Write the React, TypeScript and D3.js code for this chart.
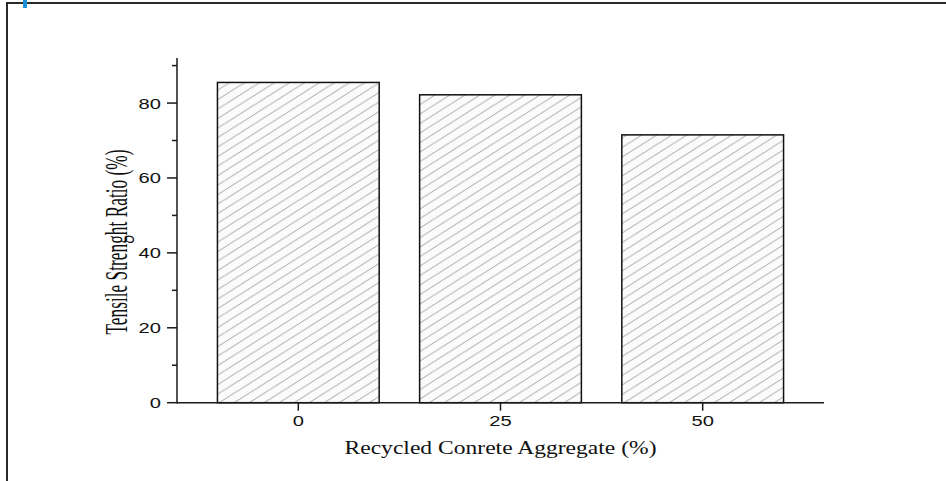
import React from "react";
import * as d3 from "d3";

const categories = [0, 25, 50];
const values = [85.5, 82.2, 71.5];
const yMajorTicks = [0, 20, 40, 60, 80];
const yMinorTicks = [10, 30, 50, 70, 90];
const xTickLabels = ["0", "25", "50"];
const xLabel = "Recycled Conrete Aggregate (%)";
const yLabel = "Tensile Strenght Ratio (%)";

const W = 946;
const H = 481;

export default function App() {
  const x = d3.scaleLinear().domain([-15, 65]).range([177, 824]);
  const y = d3.scaleLinear().domain([0, 92]).range([402.7, 58.1]);
  const barW = x(20) - x(0);
  const axisColor = "#1a1a1a";
  const pw = 15;
  const ph = 9.5;

  return (
    <svg
      width={W}
      height={H}
      style={{ position: "absolute", left: 0, top: 0, background: "#fff" }}
    >
      <defs>
        <pattern id="hatch" patternUnits="userSpaceOnUse" width={pw} height={ph}>
          <rect width={pw} height={ph} fill="#fbfbfb" />
          <line x1={0} y1={ph} x2={pw} y2={0} stroke="#aaaaaa" strokeWidth={1} />
          <line x1={-pw} y1={ph} x2={0} y2={0} stroke="#aaaaaa" strokeWidth={1} />
          <line x1={pw} y1={ph} x2={2 * pw} y2={0} stroke="#aaaaaa" strokeWidth={1} />
        </pattern>
      </defs>
      {/* frame */}
      <rect x={0} y={0} width={W} height={H} fill="#fff" />
      <line x1={6} y1={3} x2={W} y2={3} stroke="#2a2a2a" strokeWidth={2} />
      <line x1={7} y1={2} x2={7} y2={H} stroke="#2a2a2a" strokeWidth={2} />
      <rect x={23} y={0} width={4} height={8} fill="#1e90d6" />

      {/* bars */}
      {categories.map((c, i) => (
        <rect
          key={c}
          x={x(c) - barW / 2}
          y={y(values[i])}
          width={barW}
          height={y(0) - y(values[i])}
          fill="url(#hatch)"
          stroke="#111"
          strokeWidth={1.5}
        />
      ))}

      {/* y axis */}
      <line x1={x(-15)} y1={y(0) + 0.75} x2={x(-15)} y2={y(92)} stroke={axisColor} strokeWidth={1.5} />
      {yMajorTicks.map((t) => (
        <g key={"ym" + t}>
          <line x1={x(-15) - 10} x2={x(-15)} y1={y(t)} y2={y(t)} stroke={axisColor} strokeWidth={1.5} />
          <text
            transform={`translate(${x(-15) - 16},${y(t) + 5.5}) scale(1.3,1)`}
            textAnchor="end"
            fontFamily="Liberation Sans, Arial, sans-serif"
            fontSize={15.5}
            fill="#111"
          >
            {t}
          </text>
        </g>
      ))}
      {yMinorTicks.map((t) => (
        <line key={"yn" + t} x1={x(-15) - 5} x2={x(-15)} y1={y(t)} y2={y(t)} stroke={axisColor} strokeWidth={1.5} />
      ))}

      {/* x axis */}
      <line x1={x(-15)} y1={y(0)} x2={x(65)} y2={y(0)} stroke={axisColor} strokeWidth={1.5} />
      {categories.map((c, i) => (
        <g key={"xt" + c}>
          <line x1={x(c)} x2={x(c)} y1={y(0)} y2={y(0) + 8} stroke={axisColor} strokeWidth={1.5} />
          <text
            transform={`translate(${x(c)},${426}) scale(1.3,1)`}
            textAnchor="middle"
            fontFamily="Liberation Sans, Arial, sans-serif"
            fontSize={15.5}
            fill="#111"
          >
            {xTickLabels[i]}
          </text>
        </g>
      ))}

      {/* axis labels */}
      <text
        x={x(25)}
        y={453.5}
        textAnchor="middle"
        fontFamily="Liberation Serif, Times New Roman, serif"
        fontSize={18}
        textLength={312}
        lengthAdjust="spacingAndGlyphs"
        fill="#111"
      >
        {xLabel}
      </text>
      <text
        transform={`translate(127,242) rotate(-90)`}
        textAnchor="middle"
        fontFamily="Liberation Serif, Times New Roman, serif"
        fontSize={31}
        textLength={185}
        lengthAdjust="spacingAndGlyphs"
        fill="#111"
      >
        {yLabel}
      </text>
    </svg>
  );
}
